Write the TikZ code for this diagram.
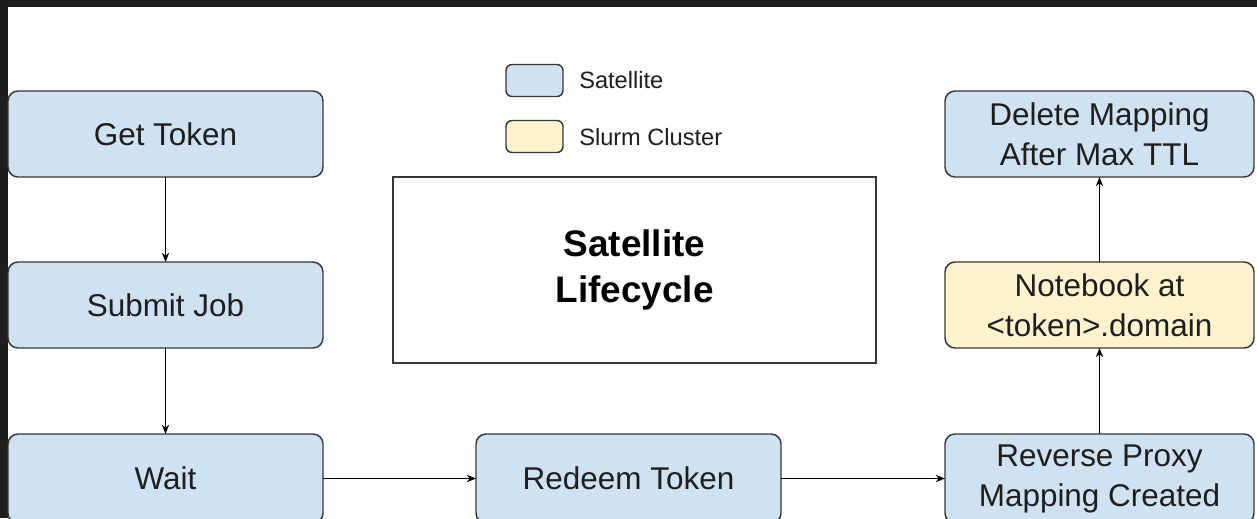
\documentclass[tikz,border=0pt]{standalone}
\usepackage{fontspec}
\setmainfont{Liberation Sans}
\usepackage{xcolor}
\usetikzlibrary{arrows.meta}

\definecolor{satblue}{RGB}{207,226,243}
\definecolor{slurmyellow}{RGB}{255,242,204}
\definecolor{edgegray}{RGB}{55,55,55}
\definecolor{framedark}{RGB}{30,30,30}
\definecolor{textdark}{RGB}{30,30,30}

\tikzset{
  stagebox/.style={draw=edgegray, line width=1.1pt, rounded corners=7.5pt,
    inner sep=0pt, outer sep=0pt, align=center, text=textdark,
    minimum width=236.25pt, minimum height=64.5pt,
    font=\fontsize{23.6}{30}\selectfont},
  satbox/.style={stagebox, fill=satblue},
  slurmbox/.style={stagebox, fill=slurmyellow},
  swatch/.style={draw=edgegray, line width=1.1pt, rounded corners=4.5pt,
    minimum width=42.75pt, minimum height=24pt, inner sep=0pt},
  legendtext/.style={anchor=west, inner sep=0pt, text=textdark,
    font=\fontsize{17.7}{20}\selectfont},
  flow/.style={draw=black, line width=0.8pt, -{Stealth[length=7pt,width=5.5pt]}}
}

\begin{document}
\begin{tikzpicture}[x=0.75pt,y=0.75pt,yscale=-1,xscale=1]
\useasboundingbox (0,0) rectangle (1257,518);
\clip (0,0) rectangle (1257,518);

% dark frame
\fill [framedark] (0,0) rectangle (1257,7);
\fill [framedark] (0,0) rectangle (8,518);

% left column
\node [satbox] (gettoken) at (165.5,134) {Get Token};
\node [satbox] (submitjob) at (165.5,305) {Submit Job};
\node [satbox, minimum height=66.75pt] (wait) at (165.5,478.5) {Wait};

% bottom row
\node [satbox, minimum width=228.75pt, minimum height=66.75pt] (redeem) at (628.5,478.5) {Redeem Token};
\node [satbox, minimum width=231.75pt, minimum height=66.75pt] (proxy) at (1099.5,478.5) {Reverse Proxy\\Mapping Created};

% right column
\node [slurmbox, minimum width=231.75pt] (notebook) at (1099.5,305) {Notebook at\\<token>.domain};
\node [satbox, minimum width=231.75pt] (deletemap) at (1099.5,134) {Delete Mapping\\After Max TTL};

% legend
\node [swatch, fill=satblue] (satswatch) at (534.5,80.5) {};
\node [legendtext] (satlabel) at (579,80) {Satellite};
\node [swatch, fill=slurmyellow] (slurmswatch) at (534.5,136.5) {};
\node [legendtext] (slurmlabel) at (579,137) {Slurm Cluster};

% title
\node [draw=edgegray, line width=1.1pt, minimum width=362.25pt, minimum height=139.5pt,
  inner sep=0pt, align=center, font=\bfseries\fontsize{27.7}{34.5}\selectfont]
  (title) at (634.5,270) {Satellite\\Lifecycle};

% connectors
\draw [flow] (gettoken) -- (submitjob);
\draw [flow] (submitjob) -- (wait);
\draw [flow] (wait.east |- redeem.west) -- (redeem.west);
\draw [flow] (redeem) -- (proxy);
\draw [flow] (proxy) -- (notebook);
\draw [flow] (notebook) -- (deletemap);

\end{tikzpicture}
\end{document}
